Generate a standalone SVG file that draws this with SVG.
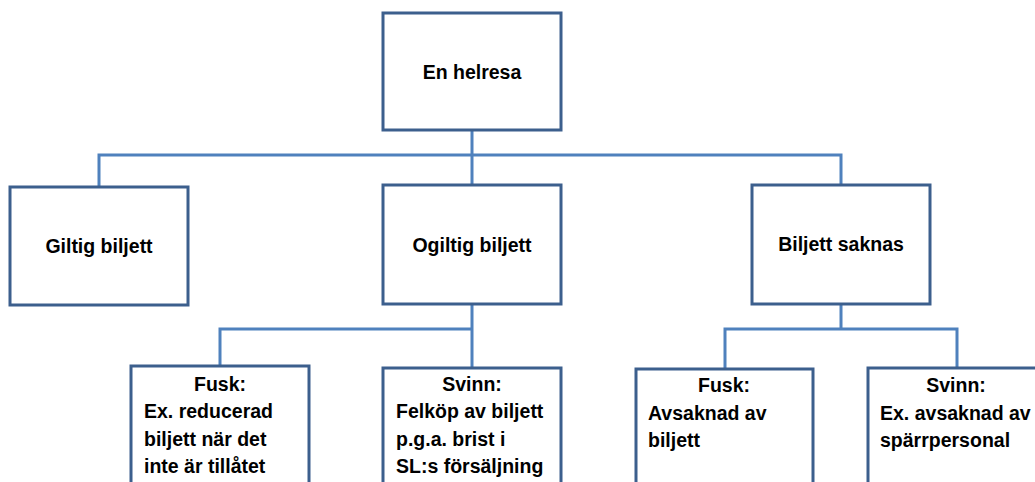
<svg xmlns="http://www.w3.org/2000/svg" width="1035" height="482" viewBox="0 0 1035 482">
<style>
.box{fill:#ffffff;stroke:#3c5f8d;stroke-width:3}
.conn{fill:none;stroke:#4f81bd;stroke-width:3}
text{font-family:"Liberation Sans",Arial,sans-serif;font-weight:bold;font-size:19.5px;fill:#000}
.c{text-anchor:middle}
</style>
<rect width="1035" height="482" fill="#ffffff"/>
<g id="connectors">
<path class="conn" d="M472,130 V185"/>
<path class="conn" d="M99,187 V155 H841 V185"/>
<path class="conn" d="M472,304 V329 M220,366 V329 H472 V368"/>
<path class="conn" d="M841,304 V329 M725,369 V329 H957 V368"/>
</g>
<g id="node-root">
<rect class="box" x="383" y="13" width="178" height="117"/>
<text class="c" x="472" y="79">En helresa</text>
</g>
<g id="node-giltig">
<rect class="box" x="10" y="187" width="178" height="118"/>
<text class="c" x="99" y="253">Giltig biljett</text>
</g>
<g id="node-ogiltig">
<rect class="box" x="383" y="185" width="178" height="119"/>
<text class="c" x="472" y="252">Ogiltig biljett</text>
</g>
<g id="node-saknas">
<rect class="box" x="752" y="185" width="178" height="119"/>
<text class="c" x="841" y="251">Biljett saknas</text>
</g>
<g id="node-fusk1">
<rect class="box" x="131" y="366" width="178" height="130"/>
<text class="c" x="220" y="391">Fusk:</text>
<text x="144" y="418">Ex. reducerad</text>
<text x="144" y="446">biljett när det</text>
<text x="144" y="473">inte är tillåtet</text>
</g>
<g id="node-svinn1">
<rect class="box" x="383" y="368" width="178" height="130"/>
<text class="c" x="472" y="391">Svinn:</text>
<text x="396" y="418">Felköp av biljett</text>
<text x="396" y="446">p.g.a. brist i</text>
<text x="396" y="473">SL:s försäljning</text>
</g>
<g id="node-fusk2">
<rect class="box" x="636" y="369" width="177" height="130"/>
<text class="c" x="724" y="392">Fusk:</text>
<text x="648" y="420">Avsaknad av</text>
<text x="648" y="447">biljett</text>
</g>
<g id="node-svinn2">
<rect class="box" x="868" y="368" width="178" height="130"/>
<text class="c" x="956" y="392">Svinn:</text>
<text x="880" y="420">Ex. avsaknad av</text>
<text x="880" y="447">spärrpersonal</text>
</g>
</svg>
